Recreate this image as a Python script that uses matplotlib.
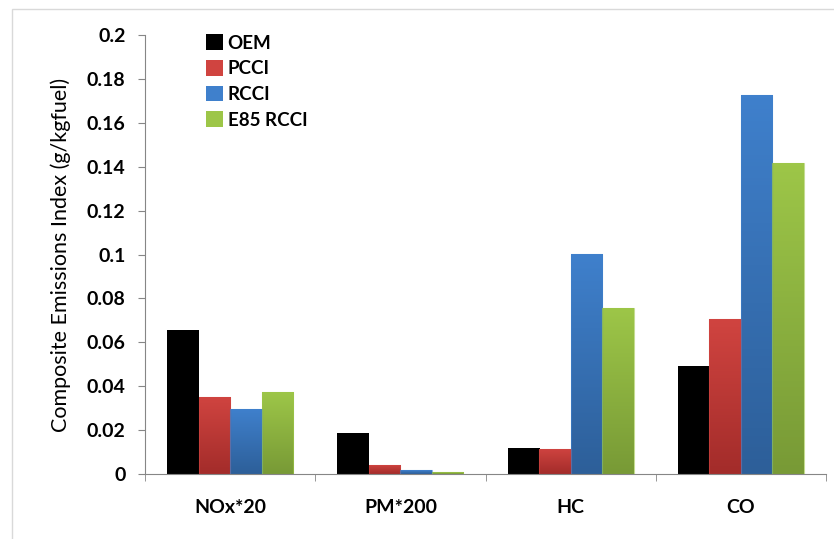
import numpy as np
import matplotlib
matplotlib.use('Agg')
import matplotlib.pyplot as plt
from matplotlib.patches import Rectangle
from matplotlib.colors import LinearSegmentedColormap
from matplotlib.ticker import FuncFormatter

categories = ['NOx*20', 'PM*200', 'HC', 'CO']
series = ['OEM', 'PCCI', 'RCCI', 'E85 RCCI']
oem = [0.0655, 0.0188, 0.012, 0.049]
pcci = [0.0352, 0.0042, 0.0115, 0.0705]
rcci = [0.0296, 0.0016, 0.1001, 0.1727]
e85 = [0.0372, 0.0010, 0.0757, 0.1415]

# top / bottom colours of each bar's gradient
grads = [('#000000', '#000000'), ('#d04440', '#a32c2a'),
         ('#3f80cc', '#2d5f99'), ('#9dc648', '#789a36')]

plt.rcParams['font.family'] = ['Lato', 'DejaVu Sans']

fig = plt.figure(figsize=(8.34, 5.39), dpi=100)
ax = fig.add_axes([145 / 834, 1 - 474 / 539, 681 / 834, 439 / 539])

x = np.arange(len(categories))
w = 0.185
grad = np.linspace(1, 0, 100).reshape(-1, 1)
handles = []
for i, (vals, name) in enumerate(zip([oem, pcci, rcci, e85], series)):
    top, bot = grads[i]
    cmap = LinearSegmentedColormap.from_list(name, [bot, top])
    bars = ax.bar(x + (i - 1.5) * w, vals, w, color=top, edgecolor='none', label=name)
    for b in bars:
        bx, by = b.get_x(), b.get_y()
        bw, bh = b.get_width(), b.get_height()
        b.set_facecolor('none')
        im = ax.imshow(grad, cmap=cmap, aspect='auto', vmin=0, vmax=1,
                       extent=[bx, bx + bw, by, by + bh], zorder=2)
        im.set_clip_path(b)
        if i > 0:
            ax.add_patch(Rectangle((bx, by), bw, bh, fill=False,
                                   edgecolor=top, lw=0.8, alpha=0.6, zorder=3))
    handles.append(Rectangle((0, 0), 1, 1, facecolor=top, edgecolor='none'))

ax.set_xlim(-0.5, 3.5)
ax.set_ylim(0, 0.2)
ax.set_yticks(np.arange(0, 0.201, 0.02))
ax.yaxis.set_major_formatter(FuncFormatter(lambda v, p: '%g' % round(v, 2)))
ax.set_xticks(x)
ax.set_xticklabels(categories, fontsize=14, fontweight='bold')
ax.set_xticks(np.arange(-0.5, 4, 1), minor=True)
ax.tick_params(axis='x', which='major', length=0, pad=18)
ax.tick_params(axis='x', which='minor', length=5, color='#868686')
ax.tick_params(axis='y', length=5, color='#868686', labelsize=14, pad=9)
for lab in ax.get_yticklabels():
    lab.set_fontweight('bold')
ax.set_ylabel('Composite Emissions Index (g/kgfuel)', fontsize=15.5, labelpad=11)

for s in ['top', 'right']:
    ax.spines[s].set_visible(False)
for s in ['left', 'bottom']:
    ax.spines[s].set_color('#868686')

leg = ax.legend(handles, series, loc='upper left', bbox_to_anchor=(0.065, 1.04),
                frameon=False, fontsize=13.5, handlelength=0.9, handleheight=0.9,
                handletextpad=0.25, labelspacing=0.45)
for t in leg.get_texts():
    t.set_fontweight('bold')

# chart area border (only left and top visible in the crop)
fig.add_artist(Rectangle((12 / 834, -0.1), 1.2, 1 - 9 / 539 + 0.1,
                         transform=fig.transFigure, fill=False,
                         edgecolor='#d9d9d9', lw=1))

fig.savefig('out.png', dpi=100)
